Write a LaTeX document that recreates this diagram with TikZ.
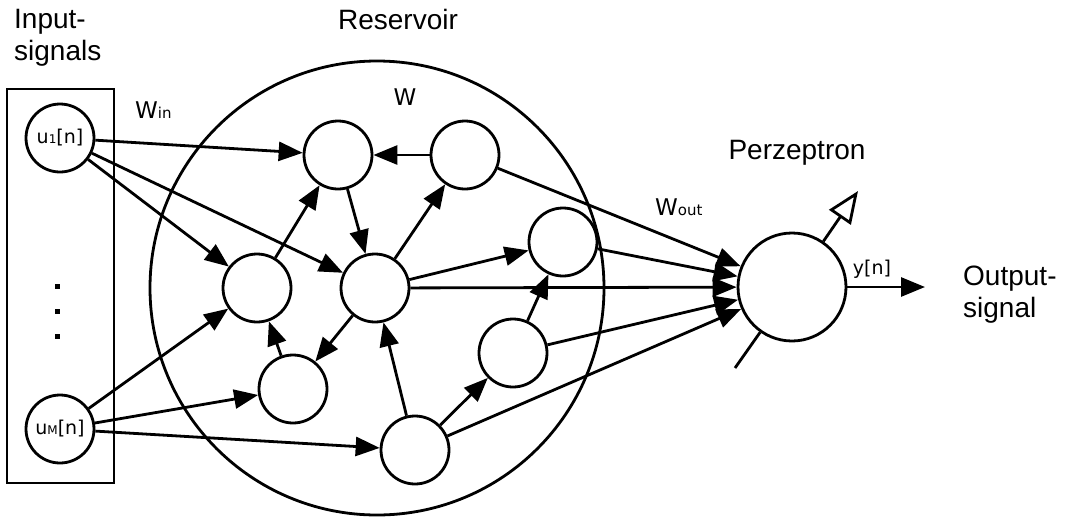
\documentclass[tikz,border=0pt]{standalone}
\usepackage{fontspec}
\setmainfont{Liberation Sans}
\newfontfamily\djv{DejaVu Sans}
\usetikzlibrary{arrows.meta}

\tikzset{
  stroke/.style={line width=2.8pt},
  neuron/.style={stroke, circle, draw, minimum size=68pt, inner sep=0pt},
  wire/.style={stroke, -{Triangle[length=24pt,width=19pt]}},
  lbl/.style={font=\fontsize{28}{32}\selectfont, inner sep=0pt},
  sym/.style={font=\djv\fontsize{19}{22}\selectfont, inner sep=0pt},
}

\begin{document}
\begin{tikzpicture}[x=1pt, y=-1pt]
  \useasboundingbox (0,0) rectangle (1070,517);

  % titles
  \node[lbl, anchor=north west, align=left] (tin) at (14,9) {Input-\\signals};
  \node[lbl, anchor=base] (tres) at (398,29) {Reservoir};
  \node[lbl, anchor=base] (tper) at (797,159) {Perzeptron};
  \node[lbl, anchor=north west, align=left] (tout) at (963,266) {Output-\\signal};

  % weight labels
  \node[font=\djv, inner sep=0pt, anchor=base west] (win) at (135,118)
    {\fontsize{23}{23}\selectfont W\fontsize{15}{15}\selectfont in};
  \node[font=\djv, inner sep=0pt, anchor=base] (wres) at (405,105)
    {\fontsize{23}{23}\selectfont W};
  \node[font=\djv, inner sep=0pt, anchor=base west] (wout) at (655,215)
    {\fontsize{23}{23}\selectfont W\fontsize{15}{15}\selectfont out};

  % input layer
  \node[stroke, draw, minimum width=107pt, minimum height=394pt, inner sep=0pt] (inbox) at (60.5,286) {};
  \node[neuron, sym] (u1) at (60,138) {u{\fontsize{12}{12}\selectfont 1}[n]};
  \node[neuron, sym] (uM) at (60,429) {u{\fontsize{12}{12}\selectfont M}[n]};
  \fill (54.5,283.5) rectangle +(5.5,5.5);
  \fill (54.5,308.5) rectangle +(5.5,5.5);
  \fill (54.5,333.5) rectangle +(5.5,5.5);

  % reservoir
  \node[stroke, circle, draw, minimum size=454pt, inner sep=0pt] (res) at (377,288) {};
  \node[neuron] (A) at (338,155) {};
  \node[neuron] (B) at (465,155) {};
  \node[neuron] (C) at (257,288) {};
  \node[neuron] (D) at (375,288) {};
  \node[neuron] (E) at (563,242) {};
  \node[neuron] (F) at (513,353) {};
  \node[neuron] (G) at (293,389) {};
  \node[neuron] (H) at (415,450) {};

  % perceptron
  \node[stroke, circle, draw, minimum size=108pt, inner sep=0pt] (P) at (792,287) {};
  \coordinate (yend) at (925,287);
  \coordinate (fb) at (858,191);
  \coordinate (bias) at (735,368);

  % input weights
  \draw[wire] (u1) -- (A);
  \draw[wire] (u1) -- (C);
  \draw[wire] (u1) -- (D);
  \draw[wire] (uM) -- (C);
  \draw[wire] (uM) -- (G);
  \draw[wire] (uM) -- (H);

  % internal reservoir connections
  \draw[wire] (C) -- (A);
  \draw[wire] (A) -- (D);
  \draw[wire] (B) -- (A);
  \draw[wire] (D) -- (B);
  \draw[wire] (D) -- (E);
  \draw[wire] (D) -- (G);
  \draw[wire] (G) -- (C);
  \draw[wire] (H) -- (D);
  \draw[wire] (H) -- (F);
  \draw[wire] (F) -- (E);

  % output weights
  \draw[wire] (B) -- (P);
  \draw[wire] (E) -- (P);
  \draw[wire] (D) -- (P);
  \draw[wire] (F) -- (P);
  \draw[wire] (H) -- (P);

  % perceptron output, feedback and bias
  \draw[wire] (P) -- (yend);
  \node[sym, anchor=base] (yl) at (872,274) {y[n]};
  \draw[stroke, -{Triangle[open, length=32pt, width=26pt]}] (P) -- (fb);
  \draw[stroke] (P) -- (bias);
\end{tikzpicture}
\end{document}
